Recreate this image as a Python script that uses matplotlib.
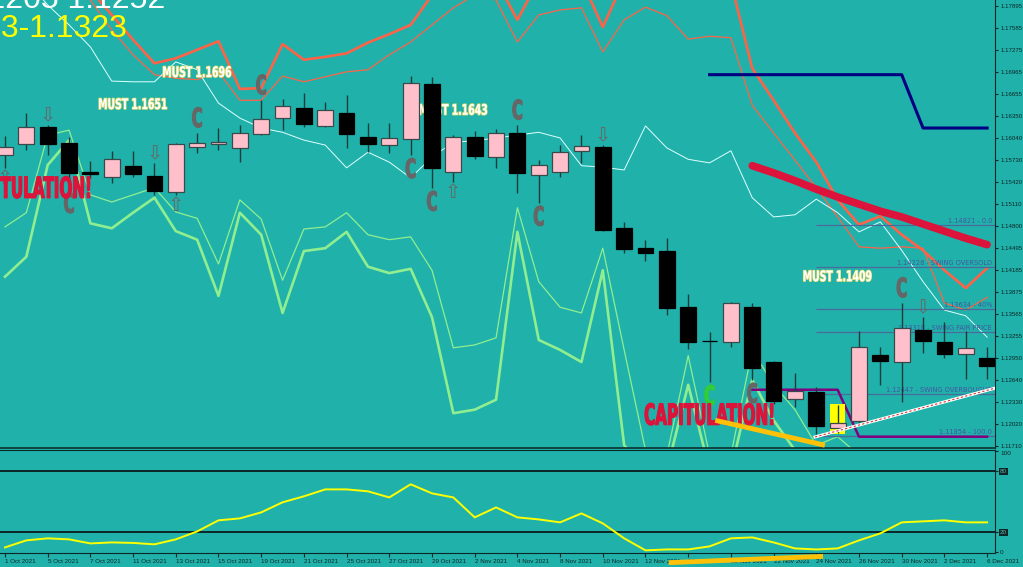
import matplotlib
matplotlib.use('Agg')
import matplotlib.pyplot as plt
import matplotlib.patheffects as pe
from matplotlib.transforms import Affine2D

# Daily candles, 1 Oct 2021 .. 6 Dec 2021 (47 bars)
opens = [1.1580, 1.1596, 1.1619, 1.1597, 1.1556, 1.1549, 1.1565, 1.1551, 1.1528, 1.1591,
         1.1596, 1.1590, 1.1610, 1.1632, 1.1646, 1.1621, 1.1639, 1.1605, 1.1594, 1.1603,
         1.1680, 1.1556, 1.1605, 1.1577, 1.1611, 1.1552, 1.1556, 1.1586, 1.1591, 1.1477,
         1.1449, 1.1445, 1.1366, 1.1319, 1.1317, 1.1366, 1.1289, 1.1237, 1.1247, 1.1196,
         1.1206, 1.1299, 1.1289, 1.1334, 1.1317, 1.1300, 1.1295]
highs = [1.1607, 1.1639, 1.1622, 1.1605, 1.1572, 1.1586, 1.1586, 1.1569, 1.1597, 1.1611,
         1.1618, 1.1622, 1.1657, 1.1659, 1.1667, 1.1655, 1.1664, 1.1625, 1.1625, 1.1691,
         1.1690, 1.1608, 1.1614, 1.1617, 1.1622, 1.1573, 1.1594, 1.1608, 1.1594, 1.1486,
         1.1461, 1.1463, 1.1385, 1.1331, 1.1373, 1.1372, 1.1290, 1.1274, 1.1254, 1.1229,
         1.1333, 1.1310, 1.1372, 1.1352, 1.1345, 1.1333, 1.1310]
lows = [1.1562, 1.1587, 1.1580, 1.1531, 1.1548, 1.1541, 1.1549, 1.1524, 1.1524, 1.1583,
        1.1587, 1.1570, 1.1608, 1.1615, 1.1619, 1.1619, 1.1590, 1.1584, 1.1583, 1.1580,
        1.1534, 1.1542, 1.1575, 1.1562, 1.1527, 1.1513, 1.1549, 1.1569, 1.1473, 1.1442,
        1.1431, 1.1355, 1.1307, 1.1261, 1.1310, 1.1264, 1.1230, 1.1226, 1.1188, 1.1189,
        1.1203, 1.1257, 1.1233, 1.1302, 1.1295, 1.1265, 1.1265]
closes = [1.1591, 1.1619, 1.1596, 1.1555, 1.1553, 1.1575, 1.1553, 1.1530, 1.1596, 1.1597,
          1.1598, 1.1611, 1.1631, 1.1649, 1.1624, 1.1643, 1.1610, 1.1596, 1.1604, 1.1681,
          1.1562, 1.1605, 1.1579, 1.1611, 1.1555, 1.1566, 1.1584, 1.1593, 1.1475, 1.1448,
          1.1442, 1.1365, 1.1317, 1.1318, 1.1372, 1.1281, 1.1234, 1.1248, 1.1199, 1.1203,
          1.1310, 1.1291, 1.1337, 1.1319, 1.1300, 1.1309, 1.1283]

date_labels = ['1 Oct 2021', '5 Oct 2021', '7 Oct 2021', '11 Oct 2021', '13 Oct 2021',
               '15 Oct 2021', '19 Oct 2021', '21 Oct 2021', '25 Oct 2021', '27 Oct 2021',
               '29 Oct 2021', '2 Nov 2021', '4 Nov 2021', '8 Nov 2021', '10 Nov 2021',
               '12 Nov 2021', '16 Nov 2021', '18 Nov 2021', '22 Nov 2021', '24 Nov 2021',
               '26 Nov 2021', '30 Nov 2021', '2 Dec 2021', '6 Dec 2021']

# Indicator lines (one value per bar)
band_red_thick = [1.1882, 1.1861, 1.1847, 1.1833, 1.1812, 1.1777, 1.1742, 1.1709, 1.1716, 1.1728,
                  1.1740, 1.1673, 1.1674, 1.1736, 1.1714, 1.1718, 1.1723, 1.1738, 1.1750, 1.1763,
                  1.1805, 1.1826, 1.1833, 1.1826, 1.1770, 1.1826, 1.1833, 1.1826, 1.1760, 1.1826,
                  1.1840, 1.1847, 1.1847, 1.1840, 1.1823, 1.1702, 1.1657, 1.1611, 1.1570, 1.1517,
                  1.1482, 1.1494, 1.1468, 1.1446, 1.1418, 1.1393, 1.1421]
band_red_thin = [1.1854, 1.1840, 1.1826, 1.1812, 1.1798, 1.1756, 1.1721, 1.1693, 1.1688, 1.1686,
                 1.1697, 1.1657, 1.1657, 1.1691, 1.1683, 1.1690, 1.1697, 1.1700, 1.1721, 1.1739,
                 1.1763, 1.1787, 1.1805, 1.1798, 1.1739, 1.1777, 1.1784, 1.1787, 1.1725, 1.1770,
                 1.1788, 1.1776, 1.1743, 1.1747, 1.1745, 1.1650, 1.1611, 1.1573, 1.1534, 1.1493,
                 1.1451, 1.1449, 1.1451, 1.1449, 1.1372, 1.1362, 1.1380]
mid_line = [1.1854, 1.1826, 1.1791, 1.1763, 1.1732, 1.1684, 1.1683, 1.1683, 1.1711, 1.1700,
            1.1653, 1.1632, 1.1618, 1.1612, 1.1601, 1.1594, 1.1562, 1.1584, 1.1570, 1.1548,
            1.1577, 1.1598, 1.1600, 1.1604, 1.1608, 1.1612, 1.1604, 1.1565, 1.1563, 1.1559,
            1.1621, 1.1590, 1.1574, 1.1569, 1.1586, 1.1520, 1.1493, 1.1496, 1.1518, 1.1499,
            1.1472, 1.1486, 1.1446, 1.1402, 1.1362, 1.1354, 1.1324]
band_green_thin = [1.1479, 1.1499, 1.1608, 1.1615, 1.1524, 1.1514, 1.1524, 1.1534, 1.1500, 1.1491,
                   1.1427, 1.1517, 1.1490, 1.1404, 1.1476, 1.1479, 1.1499, 1.1468, 1.1461, 1.1465,
                   1.1418, 1.1309, 1.1313, 1.1323, 1.1506, 1.1402, 1.1366, 1.1358, 1.1449, 1.1306,
                   1.1165, 1.1158, 1.1298, 1.1158, 1.1158, 1.1306, 1.1257, 1.1222, 1.1172, 1.1184,
                   1.1158, 1.1137, 1.1137, 1.1137, 1.1137, 1.1137, 1.1137]
band_green_thick = [1.1409, 1.1437, 1.1566, 1.1601, 1.1484, 1.1477, 1.1499, 1.1520, 1.1473, 1.1461,
                    1.1382, 1.1499, 1.1468, 1.1358, 1.1445, 1.1449, 1.1472, 1.1423, 1.1414, 1.1420,
                    1.1352, 1.1217, 1.1222, 1.1236, 1.1472, 1.1320, 1.1306, 1.1289, 1.1418, 1.1172,
                    1.1137, 1.1137, 1.1257, 1.1137, 1.1137, 1.1264, 1.1207, 1.1165, 1.1137, 1.1137,
                    1.1137, 1.1137, 1.1137, 1.1137, 1.1137, 1.1137, 1.1137]
trend_crimson_x = list(range(35, 47))
trend_crimson = [1.1565, 1.1555, 1.1544, 1.1532, 1.1521, 1.1511, 1.1501, 1.1493, 1.1483, 1.1473,
                 1.1463, 1.1454]
navy_x = list(range(33, 47))
navy = [1.1693] * 10 + [1.1618] * 4
purple_x = list(range(35, 47))
purple = [1.1250] * 5 + [1.1184] * 7

stoch = [4.9, 11.8, 13.8, 12.8, 8.8, 9.8, 9.3, 7.9, 12.8, 20.6, 31.5, 33.4, 39.3, 49.2, 55.1,
         61.9, 61.9, 60.0, 54.0, 66.9, 58.0, 54.0, 34.4, 44.2, 34.4, 32.4, 29.5, 38.3, 28.5,
         13.8, 2.0, 2.9, 2.9, 5.9, 13.8, 14.7, 9.8, 3.9, 2.9, 3.9, 11.8, 18.7, 29.5, 30.5,
         31.5, 29.5, 29.5]

fib_levels = [1.14821, 1.14228, 1.13634, 1.13318, 1.12447, 1.11854]
fib_names = ['0.0', 'SWING OVERSOLD', '40%', 'SWING FAIR PRICE', 'SWING OVERBOUGHT', '100.0']
fib_start = 38

must_values = [1.1696, 1.1651, 1.1643, 1.1409]
must_bars = [9, 6, 21, 39]
capit_bars = [1, 33]
capit_prices = [1.1531, 1.1212]

c_above = [9, 12, 24, 42]
c_below = [3, 19, 20, 25, 35]
green_c_below = [33]
arrows_down = [2, 7, 28, 43]
arrows_up = [0, 8, 21]
highlight_bar = 39

gold_trend_x = [33.27, 38.4]
gold_trend_y = [1.1207, 1.1172]
gold_sub_x = [31.2, 38.2]
gold_sub_y = [-10.0, -4.0]
white_trend_x = [37.94, 46.4]
white_trend_y = [1.11836, 1.12525]

price_ticks = [1.17895, 1.17585, 1.17275, 1.16965, 1.16655, 1.16350, 1.16040, 1.15730,
               1.15420, 1.15110, 1.14800, 1.14495, 1.14185, 1.13875, 1.13565, 1.13255,
               1.12950, 1.12640, 1.12330, 1.12020, 1.11710]

BG = '#20B2AA'
SMALL = ['Liberation Sans', 'DejaVu Sans']


class Squeeze(pe.AbstractPathEffect):
    """Narrow glyphs horizontally around display x = cx (stand-in for a condensed face)."""

    def __init__(self, cx, sx, edge=None, lw=0.0):
        super().__init__()
        self.cx, self.sx, self.edge, self.lw = cx, sx, edge, lw

    def draw_path(self, renderer, gc, tpath, affine, rgbFace=None):
        aff = affine + Affine2D().translate(-self.cx, 0).scale(self.sx, 1).translate(self.cx, 0)
        if self.edge:
            gc0 = renderer.new_gc()
            gc0.copy_properties(gc)
            gc0.set_foreground(self.edge)
            gc0.set_linewidth(self.lw)
            renderer.draw_path(gc0, tpath, aff, rgbFace)
            gc0.restore()
        renderer.draw_path(gc, tpath, aff, rgbFace)


fig = plt.figure(figsize=(10.23, 5.67), dpi=100)
fig.patch.set_facecolor(BG)

ax = fig.add_axes([0, 119 / 567, 995 / 1023, 448 / 567])
ax.set_facecolor(BG)
xlim = (-0.234, 46.37)
ax.set_xlim(*xlim)
ax.set_ylim(1.11681, 1.1798)


def px(i, p):
    return ax.transData.transform((i, p))[0]


x = list(range(len(opens)))

# indicator lines
ax.plot(x, band_red_thin, color='#FF6347', lw=0.9, zorder=2)
ax.plot(x, band_red_thick, color='#FF6347', lw=1.9, zorder=2)
ax.plot(x, mid_line, color='#E0FFFF', lw=0.7, zorder=2)
ax.plot(x, band_green_thin, color='#90EE90', lw=0.9, zorder=2)
ax.plot(x, band_green_thick, color='#90EE90', lw=1.9, zorder=2)

# fibonacci levels
ax.hlines(fib_levels, fib_start, xlim[1], color='#4A6A9A', lw=0.9, zorder=2)
for lvl, name in zip(fib_levels, fib_names):
    ax.text(0.997, lvl + 0.0001, f'{lvl:.5f} - {name}', transform=ax.get_yaxis_transform(),
            ha='right', va='bottom', fontsize=4.8, color='#4456A0', zorder=2)

ax.plot(navy_x, navy, color='#000080', lw=2.2, zorder=3)
ax.plot(purple_x, purple, color='#800080', lw=1.8, zorder=3)
ax.plot(trend_crimson_x, trend_crimson, color='#DC143C', lw=5.5, solid_capstyle='round', zorder=3)

# MUST labels
for v, b in zip(must_values, must_bars):
    ax.text(b, v, f'MUST {v:.4f}', ha='center', va='center', color='white', fontsize=10.5,
            fontweight='bold', family='DejaVu Sans', zorder=3,
            path_effects=[Squeeze(px(b, v), 0.64, edge='#d9d96a', lw=1.0)])

# highlight box
ax.bar(highlight_bar, highs[highlight_bar] - lows[highlight_bar] + 0.0002,
       bottom=lows[highlight_bar] - 0.0001, width=0.72, color='#FFFF00', zorder=3.5)

# candles
ax.vlines(x, lows, highs, color='#173c3c', lw=1, zorder=4)
for i in x:
    o, c = opens[i], closes[i]
    bull = c > o
    ax.bar(i, max(abs(c - o), 0.00003), bottom=min(o, c), width=0.74,
           color='#FFC0CB' if bull else 'black',
           edgecolor='#3a4a4a' if bull else 'black', lw=0.9, zorder=5)

# signal letters and arrows
letters = [(i, highs[i], 'bottom', 0, '#666666') for i in c_above]
letters += [(i, lows[i], 'top', -2, '#666666') for i in c_below]
letters += [(i, lows[i], 'top', -2, '#32CD32') for i in green_c_below]
for i, p, va, dy, col in letters:
    ax.annotate('C', (i, p), xytext=(0, dy), textcoords='offset points', ha='center', va=va,
                color=col, fontsize=19, fontweight='bold', family='DejaVu Sans', zorder=6,
                path_effects=[Squeeze(px(i, p), 0.56, edge=col, lw=0.9)])
for i in arrows_down:
    ax.annotate('\u21e9', (i, highs[i]), xytext=(0, 0), textcoords='offset points',
                ha='center', va='bottom', color='#666666', fontsize=14, zorder=6)
for i in arrows_up:
    ax.annotate('\u21e7', (i, lows[i]), xytext=(0, -1), textcoords='offset points',
                ha='center', va='top', color='#666666', fontsize=14, zorder=6)

for b, p in zip(capit_bars, capit_prices):
    ax.text(b, p, 'CAPITULATION!', ha='center', va='center', color='#DC143C', fontsize=21,
            fontweight='bold', family='DejaVu Sans', zorder=7,
            path_effects=[Squeeze(px(b, p), 0.52, edge='#DC143C', lw=0.8)])

# hand drawn trend lines
ax.plot(gold_trend_x, gold_trend_y, color='#FFC107', lw=3.5, zorder=8, solid_capstyle='butt')
ax.plot(white_trend_x, white_trend_y, color='white', lw=2.2, zorder=8)
ax.plot(white_trend_x, white_trend_y, color='#E03030', lw=0.8, ls=(0, (2, 2)), zorder=8)

# axes styling
ax.yaxis.tick_right()
ax.set_yticks(price_ticks)
ax.set_yticklabels([f'{t:.5f}' for t in price_ticks], family=SMALL)
ax.tick_params(axis='y', labelsize=4.4, length=2.5, pad=1.2, colors='#0d2626')
ax.set_xticks([])
for s in ['left', 'top']:
    ax.spines[s].set_visible(False)
ax.spines['right'].set_color('#0d2626')
ax.spines['bottom'].set_color('#0d3030')
ax.spines['bottom'].set_linewidth(1.2)

# lower oscillator panel
sub = fig.add_axes([0, 14 / 567, 995 / 1023, 103 / 567])
sub.set_facecolor(BG)
sub.set_xlim(*xlim)
sub.set_ylim(-0.6, 100.6)
sub.axhline(80, color='#0a1a1a', lw=1.3)
sub.axhline(20, color='#0a1a1a', lw=1.3)
sub.plot(x, stoch, color='#FFFF00', lw=1.4)
sub.plot(gold_sub_x, gold_sub_y, color='#FFC107', lw=3.5, clip_on=False, zorder=8)
sub.yaxis.tick_right()
sub.set_yticks([0, 20, 80, 100])
sub.set_yticklabels(['0', '20', '80', '100'], family=SMALL)
sub.tick_params(axis='y', labelsize=4.6, length=2.5, pad=1.2, colors='#0d2626')
for lab in sub.get_yticklabels():
    if lab.get_text() in ('20', '80'):
        lab.set_bbox(dict(fc='#0f2626', ec='none', pad=0.5))
        lab.set_color('#5fb0a8')
    elif lab.get_text() == '100':
        lab.set_va('top')
sub.set_xticks(range(0, 47, 2))
sub.set_xticklabels(date_labels, ha='left', family=SMALL)
sub.tick_params(axis='x', labelsize=4.5, length=3, pad=1.5, colors='#0d2626')
sub.spines['left'].set_visible(False)
for s in ['right', 'top', 'bottom']:
    sub.spines[s].set_color('#0d2626')

# header readouts
fig.text(165 / 1023, 1 - 8 / 567, '1.1205 1.1252', ha='right', va='baseline', color='white',
         fontsize=23, family=SMALL)
fig.text(128 / 1023, 1 - 37 / 567, '1.1233-1.1323', ha='right', va='baseline', color='#FFFF00',
         fontsize=23, family=SMALL)

fig.savefig('out.png', dpi=100, facecolor=BG)
